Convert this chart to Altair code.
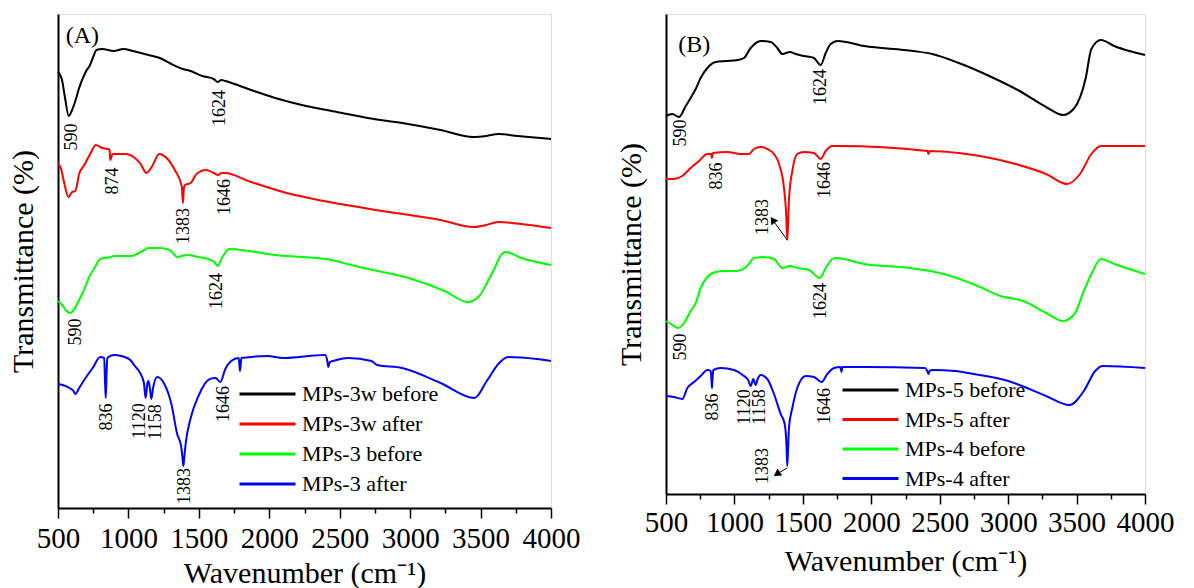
import altair as alt
import pandas as pd

FONT = "Liberation Serif"

# ---------------- Panel A data ----------------
A_names = ["MPs-3w before", "MPs-3w after", "MPs-3 before", "MPs-3 after"]
A_colors = ["#000000", "#FF0000", "#00FF00", "#0000FF"]

A_black_wn = [500, 527, 550, 576, 600, 623, 650, 677, 700, 724, 750, 773, 814, 896, 964, 1032, 1114, 1223, 1305, 1387, 1442, 1524, 1606, 1633, 1660, 1688, 1851, 2042, 2261, 2480, 2698, 2943, 3216, 3448, 3540, 3626, 3762, 4000]
A_black_t = [436, 429, 410, 392, 398, 407, 420, 430, 437, 442, 451, 458, 459, 457, 459, 457, 454, 450, 444, 439, 437, 432, 429, 426, 428, 427, 419, 410, 402, 396, 390, 385, 378, 371, 372, 374, 372, 369]

A_red_wn = [500, 520, 541, 574, 590, 601, 623, 650, 691, 732, 768, 814, 855, 866, 871, 877, 888, 978, 1046, 1087, 1128, 1169, 1218, 1278, 1333, 1374, 1380, 1387, 1394, 1401, 1442, 1483, 1551, 1606, 1638, 1660, 1688, 1851, 2124, 2425, 2807, 3216, 3448, 3540, 3626, 3790, 4000]
A_red_t = [344, 340, 327, 311, 314, 316, 317, 334, 344, 355, 363, 360, 359, 358, 348, 350, 354, 354, 350, 344, 335, 342, 354, 349, 337, 324, 320, 305, 320, 323, 325, 334, 338, 335, 333, 335, 335, 327, 315, 306, 297, 288, 281, 283, 286, 284, 280]

A_green_wn = [500, 530, 560, 587, 615, 650, 702, 718, 759, 800, 873, 896, 1019, 1060, 1100, 1142, 1224, 1292, 1347, 1415, 1497, 1565, 1610, 1633, 1660, 1715, 1851, 2042, 2397, 2670, 3012, 3244, 3408, 3490, 3545, 3600, 3640, 3676, 3790, 4000]
A_green_t = [207, 203, 197, 195, 199, 208, 224, 230, 240, 249, 251, 252, 252, 254, 257, 260, 260, 258, 251, 253, 251, 249, 246, 242, 249, 259, 257, 253, 249, 240, 229, 217, 206, 212, 225, 240, 252, 256, 250, 243]

A_blue_wn = [500, 582, 610, 623, 650, 705, 746, 800, 828, 833, 839, 845, 850, 896, 1005, 1046, 1087, 1110, 1122, 1135, 1142, 1152, 1163, 1175, 1204, 1251, 1305, 1346, 1374, 1384, 1390, 1396, 1406, 1442, 1497, 1578, 1619, 1652, 1688, 1729, 1783, 1788, 1792, 1797, 1802, 1988, 2097, 2397, 2412, 2419, 2430, 2452, 2561, 2725, 2766, 2943, 3216, 3456, 3544, 3626, 3694, 3899, 4000]
A_blue_t = [124, 120, 117, 114, 120, 132, 140, 151, 150, 130, 110, 135, 150, 153, 149, 142, 134, 125, 110, 125, 127, 120, 109, 120, 131, 125, 104, 74, 62, 50, 42, 50, 64, 90, 112, 129, 130, 126, 139, 147, 150, 143, 137, 143, 150, 152, 150, 153, 147, 141, 146, 147, 150, 147, 143, 140, 125, 110, 127, 144, 151, 149, 147]

A_ann_text = ["590", "1624", "874", "1383", "1646", "1624", "590", "836", "1120", "1158", "1383", "1646"]
A_ann_wn = [600, 1647, 894, 1395, 1683, 1632, 625, 847, 1085, 1195, 1405, 1675]
A_ann_t = [371, 400, 327, 282, 311, 217, 176, 91, 87, 86, 22, 104]

# ---------------- Panel B data ----------------
B_names = ["MPs-5 before", "MPs-5 after", "MPs-4 before", "MPs-4 after"]
B_colors = ["#000000", "#FF0000", "#00FF00", "#0000FF"]

B_black_wn = [500, 546, 595, 644, 680, 717, 753, 802, 863, 936, 1021, 1070, 1119, 1192, 1265, 1313, 1350, 1406, 1448, 1508, 1581, 1630, 1667, 1703, 1754, 1948, 2308, 2446, 2640, 2862, 3083, 3277, 3401, 3484, 3567, 3608, 3678, 3775, 3885, 4000]
B_black_t = [378, 380, 377, 388, 396, 405, 416, 426, 432, 433, 434, 436, 446, 453, 452, 446, 440, 442, 440, 438, 436, 429, 441, 450, 453, 448, 443, 440, 431, 418, 403, 387, 379, 386, 416, 445, 454, 448, 443, 439]

B_red_wn = [500, 558, 619, 680, 741, 802, 830, 836, 842, 948, 1046, 1106, 1143, 1192, 1240, 1289, 1326, 1362, 1378, 1386, 1392, 1399, 1423, 1459, 1508, 1581, 1630, 1667, 1715, 1754, 2410, 2418, 2426, 2640, 3055, 3277, 3429, 3525, 3608, 3678, 4000]
B_red_t = [315, 315, 318, 326, 333, 340, 340, 336, 341, 342, 340, 340, 345, 347, 345, 340, 330, 306, 280, 254, 270, 296, 323, 340, 342, 341, 335, 343, 348, 348, 343, 340, 343, 341, 330, 320, 310, 320, 340, 348, 348]

B_green_wn = [500, 546, 588, 632, 680, 717, 753, 802, 863, 936, 1009, 1050, 1094, 1143, 1216, 1289, 1350, 1406, 1459, 1545, 1623, 1667, 1715, 1740, 1948, 2280, 2502, 2778, 2944, 3109, 3277, 3401, 3484, 3553, 3608, 3678, 3775, 4000]
B_green_t = [173, 169, 166, 171, 183, 191, 206, 217, 222, 223, 223, 224, 228, 236, 237, 235, 226, 228, 226, 224, 216, 226, 235, 236, 230, 226, 221, 208, 198, 193, 181, 173, 180, 203, 220, 235, 230, 220]

B_blue_wn = [500, 558, 619, 656, 705, 753, 802, 827, 833, 836, 840, 846, 900, 997, 1070, 1100, 1119, 1138, 1155, 1170, 1192, 1240, 1289, 1338, 1367, 1380, 1386, 1392, 1399, 1423, 1459, 1521, 1581, 1637, 1679, 1728, 1775, 1782, 1789, 1948, 2391, 2412, 2418, 2426, 2446, 2612, 2750, 3000, 3277, 3448, 3553, 3636, 3691, 4000]
B_blue_t = [98, 97, 95, 106, 112, 118, 124, 123, 112, 106, 115, 124, 126, 124, 118, 114, 108, 115, 109, 115, 119, 115, 100, 80, 70, 50, 28, 45, 67, 86, 106, 118, 117, 112, 120, 126, 127, 122, 127, 127, 126, 122, 120, 123, 124, 123, 120, 113, 98, 89, 103, 123, 128, 126]

B_ann_text = ["590", "1624", "836", "1646", "1383", "1624", "590", "836", "1120", "1158", "1646", "1383"]
B_ann_wn = [607, 1630, 875, 1660, 1209, 1630, 607, 846, 1075, 1187, 1660, 1209]
B_ann_t = [361, 407, 318, 314, 277, 193, 147, 87, 87, 87, 88, 28]

# arrows (panel B): from peak tip to arrow head
B_arrow_wn = [1386, 1386]
B_arrow_t = [254, 26]
B_arrow_wn2 = [1280, 1310]
B_arrow_t2 = [274, 20]
B_arrow_angle = [325, 236]

panel_letters = ["(A)", "(B)"]
letter_wn = [[555], [590]]
letter_t = [[472], [449]]


def lines_df(names, wns, ts):
    frames = []
    for i, (n, w, t) in enumerate(zip(names, wns, ts)):
        frames.append(pd.DataFrame({"wn": w, "t": t, "series": n, "k": i}))
    return pd.concat(frames, ignore_index=True)


def panel(names, colors, wns, ts, ann, letter, lw, lt, width, height,
          legend_xy, label_pad, title_pad, ytitle_pad, row_pad, arrows=None):
    df = lines_df(names, wns, ts)
    x_scale = alt.Scale(domain=[500, 4000], nice=False, zero=False)
    x_axis = alt.Axis(
        values=list(range(500, 4001, 250)),
        labelExpr="datum.value % 500 === 0 ? datum.label : ''",
        format="d",
        labelOverlap=False,
        labelFlush=False,
        labelFont=FONT, labelFontSize=29, labelColor="black",
        labelPadding=label_pad,
        tickColor="black", tickWidth=1.5,
        tickSize={"condition": {"test": "datum.value % 500 === 0", "value": 10}, "value": 5},
        domainColor="black", domainWidth=2,
        grid=False,
        title="Wavenumber (cm\u207b\u00b9)",
        titleFont=FONT, titleFontSize=30, titleFontWeight="normal",
        titleColor="black", titlePadding=title_pad,
    )
    y_scale = alt.Scale(domain=[0, height], nice=False, zero=False)
    y_axis = alt.Axis(
        labels=False, ticks=False, grid=False,
        domainColor="black", domainWidth=2,
        title="Transmittance (%)",
        titleFont=FONT, titleFontSize=30, titleFontWeight="normal",
        titleColor="black", titlePadding=ytitle_pad,
    )
    x_enc = alt.X("wn:Q", scale=x_scale, axis=x_axis)
    y_enc = alt.Y("t:Q", scale=y_scale, axis=y_axis)
    lines = alt.Chart(df).mark_line(strokeWidth=2, strokeJoin="round",
                                    interpolate="monotone").encode(
        x=x_enc,
        y=y_enc,
        color=alt.Color(
            "series:N",
            scale=alt.Scale(domain=names, range=colors),
            sort=names,
            legend=alt.Legend(
                orient="none", legendX=legend_xy[0], legendY=legend_xy[1],
                title=None, symbolType="stroke", symbolSize=3136,
                symbolStrokeWidth=3, labelFont=FONT, labelFontSize=22,
                labelColor="black", clipHeight=22, rowPadding=row_pad,
                labelOffset=5, padding=0, symbolOffset=0, offset=0,
            ),
        ),
        detail="k:N",
    )
    adf = pd.DataFrame({"label": ann[0], "wn": ann[1], "t": ann[2]})
    texts = alt.Chart(adf).mark_text(
        angle=270, font=FONT, fontSize=18, color="black",
        align="center", baseline="middle",
    ).encode(x=x_enc, y=y_enc, text="label:N")
    ldf = pd.DataFrame({"label": [letter], "wn": lw, "t": lt})
    letter_layer = alt.Chart(ldf).mark_text(
        font=FONT, fontSize=24, color="black", align="left", baseline="middle",
    ).encode(x=x_enc, y=y_enc, text="label:N")
    layers = [lines, texts, letter_layer]
    if arrows is not None:
        ardf = pd.DataFrame({"wn": arrows[0], "t": arrows[1], "wn2": arrows[2],
                             "t2": arrows[3], "ang": arrows[4]})
        rule = alt.Chart(ardf).mark_rule(color="black", strokeWidth=1).encode(
            x=x_enc, y=y_enc, x2="wn2:Q", y2="t2:Q")
        head = alt.Chart(ardf).mark_point(
            shape="triangle-up", filled=True, color="black", size=70, opacity=1,
        ).encode(x=alt.X("wn2:Q", scale=x_scale, axis=x_axis),
                 y=alt.Y("t2:Q", scale=y_scale, axis=y_axis),
                 angle=alt.Angle("ang:Q", scale=None))
        layers += [rule, head]
    return alt.layer(*layers).properties(width=width, height=height)


pA = panel(A_names, A_colors,
           [A_black_wn, A_red_wn, A_green_wn, A_blue_wn],
           [A_black_t, A_red_t, A_green_t, A_blue_t],
           (A_ann_text, A_ann_wn, A_ann_t), panel_letters[0], letter_wn[0], letter_t[0],
           493, 494, (180, 369), 6, 5, 20, 8)

pB = panel(B_names, B_colors,
           [B_black_wn, B_red_wn, B_green_wn, B_blue_wn],
           [B_black_t, B_red_t, B_green_t, B_blue_t],
           (B_ann_text, B_ann_wn, B_ann_t), panel_letters[1], letter_wn[1], letter_t[1],
           479, 480, (175, 365), 4, 9, 20, 7.5,
           arrows=(B_arrow_wn, B_arrow_t, B_arrow_wn2, B_arrow_t2, B_arrow_angle))

chart = alt.hconcat(pA, pB, spacing=34).resolve_scale(
    color="independent", x="independent", y="independent"
).resolve_legend(color="independent").properties(
    padding={"left": 7, "top": 13, "right": 5, "bottom": 0},
    background="white",
).configure_view(stroke="#888888", strokeWidth=1).configure(font=FONT)

chart.save("out.html", embed_options={"renderer": "svg", "actions": False})
